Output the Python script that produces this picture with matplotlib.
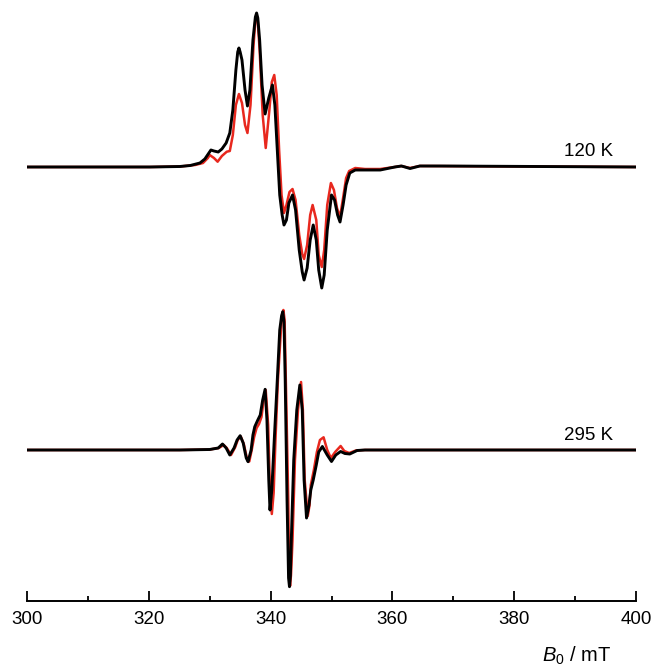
import numpy as np
import matplotlib
matplotlib.use("Agg")
import matplotlib.pyplot as plt

plt.rcParams['font.family'] = ['Liberation Sans', 'DejaVu Sans']
plt.rcParams['mathtext.fontset'] = 'custom'
plt.rcParams['mathtext.rm'] = 'Liberation Sans'
plt.rcParams['mathtext.it'] = 'Liberation Sans:italic'

# EPR spectra (field in mT, signal in arbitrary units)
b_120_black = [300, 320.2, 325.1, 326.8, 328.4, 329.2, 330.2, 330.7, 331.4, 332.0, 332.7,
               333.3, 333.8, 334.3, 334.6, 334.8, 335.0, 335.3, 335.8, 336.2, 336.6, 337.1,
               337.5, 337.7, 337.9, 338.2, 338.6, 339.1, 339.7, 340.3, 340.7, 341.1, 341.5,
               341.9, 342.2, 342.6, 343.0, 343.6, 344.1, 344.7, 345.2, 345.5, 346.0, 346.5,
               347.0, 347.5, 347.9, 348.4, 348.8, 349.3, 350.0, 350.5, 351.0, 351.4, 351.9,
               352.4, 353.0, 353.9, 355.5, 358.0, 360.4, 361.5, 362.9, 364.5, 367.8, 400]
s_120_black = [0, 0, 0.5, 1.5, 4, 8, 17, 16, 15, 18, 24,
               34, 57, 97, 115, 119, 115, 107, 77, 61, 77, 127,
               150, 154, 149, 127, 82, 53, 69, 82, 62, 17, -28,
               -48, -58, -53, -36, -28, -43, -83, -105, -113, -101, -73,
               -58, -73, -103, -121, -108, -63, -28, -33, -48, -55, -38,
               -18, -6, -3, -3, -3, 0, 1, -1.5, 1, 1, 0]

b_120_red = [300, 320.2, 325.1, 327.6, 328.9, 329.7, 330.0, 330.7, 331.3, 332.0, 332.8,
             333.3, 333.8, 334.3, 334.8, 335.3, 335.8, 336.2, 336.7, 337.2, 337.5, 337.7,
             337.9, 338.2, 338.7, 339.2, 339.8, 340.2, 340.6, 341.0, 341.4, 341.8, 342.2,
             342.6, 343.1, 343.6, 344.1, 344.7, 345.2, 345.5, 346.0, 346.5, 346.9, 347.5,
             347.9, 348.4, 348.8, 349.3, 349.9, 350.4, 350.9, 351.4, 351.9, 352.4, 352.9,
             353.9, 355.5, 358.0, 360.4, 361.4, 362.9, 364.5, 400]
s_120_red = [0, 0, 0.5, 2, 4, 9, 12, 9, 5.3, 11, 15.3,
             16, 32, 62, 73, 64, 42, 34, 62, 122, 147, 152,
             145, 117, 52, 19, 57, 85, 92, 72, 17, -28, -46,
             -38, -25, -22, -33, -68, -87, -92, -78, -48, -38, -53,
             -88, -100, -83, -38, -16, -23, -41, -50, -31, -11, -4,
             -1, -2, -2, 0, 1, -1, 1, 0]

b_295_black = [300, 325.1, 330.0, 331.4, 332.1, 332.7, 333.3, 334.0, 334.5, 335.0, 335.5,
               336.0, 336.3, 336.8, 337.1, 337.4, 337.9, 338.3, 338.7, 339.1, 339.4, 339.7,
               339.9, 340.2, 340.6, 341.1, 341.5, 341.8, 342.0, 342.2, 342.4, 342.7, 342.95,
               343.1, 343.25, 343.4, 343.8, 344.3, 344.8, 345.2, 345.5, 345.9, 346.3, 346.6,
               347.0, 347.5, 347.9, 348.5, 349.3, 350.0, 350.7, 351.5, 352.2, 353.0, 354.2,
               355.5, 400]
s_295_black = [0, 0, 0.5, 2, 6, 2, -5, 2, 10, 14.3, 7,
               -8, -11.7, 0, 15, 23.3, 30, 35, 50, 60.7, 30, -30,
               -60, -40, 10, 70, 120, 134, 138.3, 128, 70, -50, -128,
               -136.7, -126, -90, -10, 40, 65, 40, -30, -68, -55, -40,
               -30, -15, -2, 3.5, -5, -11.5, -5, -1.5, -3.5, -4, -0.5,
               0, 0]

b_295_red = [300, 325.1, 330.0, 331.5, 332.3, 332.8, 333.5, 334.2, 334.6, 335.1, 335.6,
             336.1, 336.5, 336.9, 337.3, 337.7, 338.1, 338.5, 338.8, 339.2, 339.6, 339.9,
             340.2, 340.5, 340.8, 341.2, 341.7, 341.9, 342.1, 342.3, 342.5, 342.9, 343.05,
             343.2, 343.35, 343.6, 344.0, 344.5, 345.0, 345.3, 345.6, 346.1, 346.4, 346.6,
             347.1, 347.6, 348.1, 348.7, 349.3, 349.9, 350.6, 351.5, 352.1, 352.9, 354.0,
             355.5, 400]
s_295_red = [0, 0, 0.5, 2, 5, 2, -5, 3, 10, 13.5, 6,
             -8, -11.5, 0, 13, 22, 26, 33, 47, 60, 25, -40,
             -64, -43, 10, 70, 120, 136, 140, 130, 70, -50, -127,
             -136, -125, -90, -10, 40, 68, 40, -30, -66, -55, -35,
             -20, -2, 10, 12.7, 0, -8, -2, 4, -1, -3, -0.5,
             0, 0]

labels = ['120 K', '295 K']
offsets = [434, 151]

fig = plt.figure(figsize=(6.54, 6.69), dpi=100)
ax = fig.add_axes([27 / 654, 68 / 669, 609 / 654, 601 / 669])

red = '#e8281e'
kw = dict(solid_joinstyle='round', solid_capstyle='round')
ax.plot(b_120_red, np.array(s_120_red) + offsets[0], color=red, lw=1.8, **kw)
ax.plot(b_120_black, np.array(s_120_black) + offsets[0], color='black', lw=2.1, **kw)
ax.plot(b_295_red, np.array(s_295_red) + offsets[1], color=red, lw=1.8, **kw)
ax.plot(b_295_black, np.array(s_295_black) + offsets[1], color='black', lw=2.1, **kw)

for lab, off in zip(labels, offsets):
    ax.text(396.2, off + 15, lab, ha='right', va='center', fontsize=13.5)

ax.set_xlim(300, 400)
ax.set_ylim(0, 601)
ax.set_xticks(np.arange(300, 401, 20))
ax.set_xticks(np.arange(310, 400, 20), minor=True)
ax.tick_params(axis='x', which='major', direction='in', length=7, width=1.3,
               labelsize=13.5, pad=7)
ax.tick_params(axis='x', which='minor', direction='in', length=3.5, width=1.3)
ax.set_yticks([])
for side in ['left', 'top', 'right']:
    ax.spines[side].set_visible(False)
ax.spines['bottom'].set_linewidth(1.4)
ax.patch.set_alpha(0)

fig.text(611 / 654, 1 - 656 / 669, r'$B_0$ / mT', ha='right', va='center', fontsize=14.5)

fig.savefig('out.png', dpi=100)
